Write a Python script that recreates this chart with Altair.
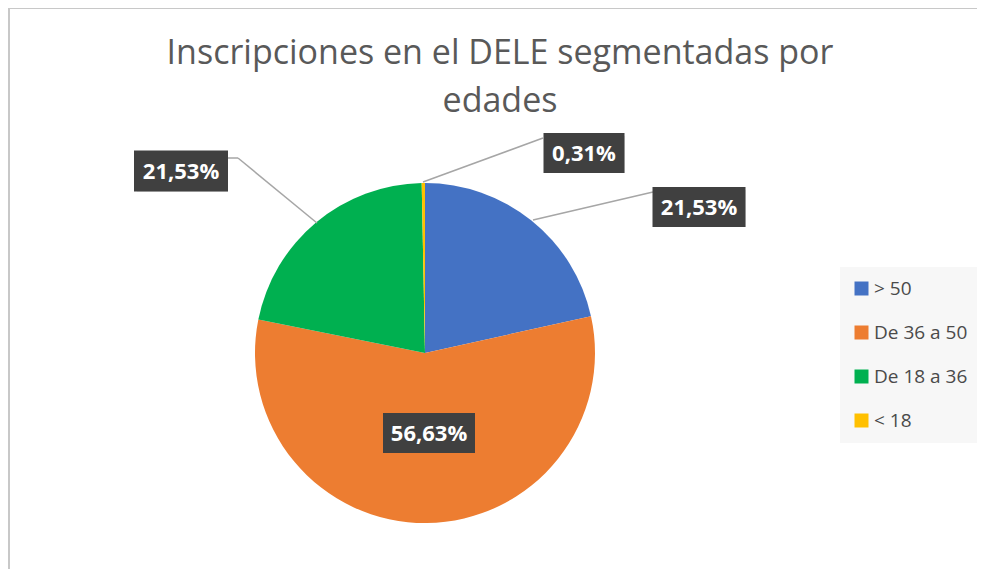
import altair as alt
import pandas as pd

# ---- data ----
categories = [">  50", "De 36 a 50", "De 18 a 36", "< 18"]
values = [21.53, 56.63, 21.53, 0.31]
colors = ["#4472C4", "#ED7D31", "#00B050", "#FFC000"]
title_lines = ["Inscripciones en el DELE segmentadas por", "edades"]

# annotation layout (chart pixel coordinates)
label_box_centers = [(691, 199), (421, 425), (173, 163), (576, 145)]
label_box_sizes = [(93, 40), (92, 40), (94, 41), (81, 40)]
leader_segments = [
    [(525, 212), (645, 184)],
    [],
    [(309, 215), (230, 150), (220, 150)],
    [(415, 174), (535, 130)],
]

W, H = 969, 561
CX, CY, R = 417, 345, 170

pie_df = pd.DataFrame({"cat": categories, "value": values, "ord": list(range(len(values)))})

def fmt(v):
    return f"{v:.2f}%".replace(".", ",")

ann = pd.DataFrame({
    "txt": [fmt(v) for v in values],
    "bx": [c[0] for c in label_box_centers],
    "by": [c[1] for c in label_box_centers],
    "x1": [c[0] - s[0] / 2 for c, s in zip(label_box_centers, label_box_sizes)],
    "x2": [c[0] + s[0] / 2 for c, s in zip(label_box_centers, label_box_sizes)],
    "y1": [c[1] - s[1] / 2 for c, s in zip(label_box_centers, label_box_sizes)],
    "y2": [c[1] + s[1] / 2 for c, s in zip(label_box_centers, label_box_sizes)],
})

seg_rows = []
for seg in leader_segments:
    for a, b in zip(seg[:-1], seg[1:]):
        seg_rows.append({"sx": a[0], "sy": a[1], "ex": b[0], "ey": b[1]})
seg_df = pd.DataFrame(seg_rows)

title_df = pd.DataFrame({"t": title_lines, "ty": [56, 104], "tx": [492, 492]})

pie = alt.Chart(pie_df).mark_arc(radius=R).encode(
    x=alt.value(CX),
    y=alt.value(CY),
    theta=alt.Theta("value:Q", stack=True),
    order=alt.Order("ord:Q"),
    color=alt.Color(
        "cat:N",
        sort=categories,
        scale=alt.Scale(domain=categories, range=colors),
        legend=alt.Legend(
            title=None,
            orient="none",
            legendX=832,
            legendY=259,
            fillColor="#f7f7f7",
            padding=12,
            symbolType="square",
            symbolSize=196,
            symbolStrokeWidth=0,
            labelFont="Open Sans",
            labelFontSize=19,
            labelColor="#4a4a4a",
            rowPadding=24,
            labelOffset=3,
        ),
    ),
)

leaders = alt.Chart(seg_df).mark_rule(color="#a6a6a6", strokeWidth=1.5).encode(
    x=alt.X("sx:Q", scale=None), y=alt.Y("sy:Q", scale=None),
    x2="ex:Q", y2="ey:Q",
)

shadow = alt.Chart(ann).mark_rect(color="#000000", opacity=0.18).encode(
    x=alt.X("x1:Q", scale=None), x2="x2:Q",
    y=alt.Y("y1:Q", scale=None), y2="y2:Q",
    xOffset=alt.value(3), yOffset=alt.value(3),
)

boxes = alt.Chart(ann).mark_rect(color="#404040").encode(
    x=alt.X("x1:Q", scale=None), x2="x2:Q",
    y=alt.Y("y1:Q", scale=None), y2="y2:Q",
)

texts = alt.Chart(ann).mark_text(
    font="Open Sans", fontSize=22, fontWeight="bold", color="white",
    align="center", baseline="middle", dy=1,
).encode(
    x=alt.X("bx:Q", scale=None), y=alt.Y("by:Q", scale=None), text="txt:N",
)

title = alt.Chart(title_df).mark_text(
    font="Open Sans", fontSize=34, color="#595959", align="center", baseline="alphabetic",
).encode(
    x=alt.X("tx:Q", scale=None), y=alt.Y("ty:Q", scale=None), text="t:N",
)

border_top = alt.Chart(pd.DataFrame({"a": [0]})).mark_rule(color="#c8c8c8", strokeWidth=2).encode(
    x=alt.value(0), x2=alt.value(W), y=alt.value(0)
)
border_left = alt.Chart(pd.DataFrame({"a": [0]})).mark_rule(color="#c8c8c8", strokeWidth=2).encode(
    x=alt.value(1), y=alt.value(0), y2=alt.value(H)
)

chart = alt.layer(
    border_top, border_left, pie, leaders, shadow, boxes, texts, title
).properties(
    width=W, height=H, autosize="none", padding=0
).configure_view(stroke=None).configure(background="white")

chart.save("out.html", embed_options={"renderer": "svg", "actions": False})
